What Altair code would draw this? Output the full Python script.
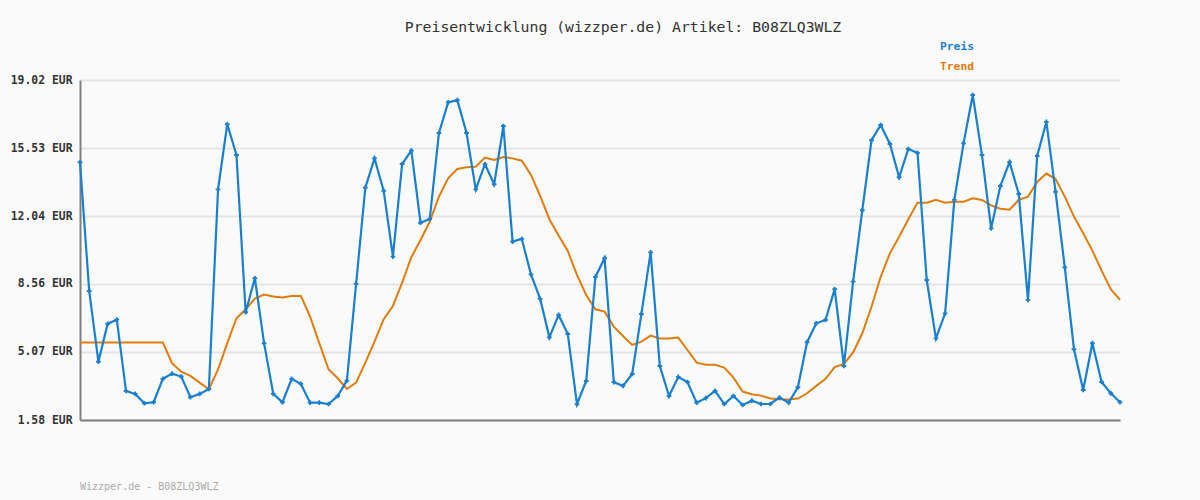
import altair as alt
import pandas as pd

price = [14.80, 8.20, 4.57, 6.51, 6.73, 3.07, 2.92, 2.44, 2.49, 3.69,
         3.96, 3.81, 2.75, 2.92, 3.17, 13.41, 16.75, 15.17, 7.11, 8.85,
         5.52, 2.92, 2.49, 3.69, 3.43, 2.47, 2.47, 2.40, 2.81, 3.60,
         8.56, 13.50, 15.00, 13.33, 9.96, 14.71, 15.40, 11.70, 11.89, 16.30,
         17.87, 17.99, 16.30, 13.41, 14.70, 13.67, 16.66, 10.73, 10.87, 9.05,
         7.79, 5.82, 6.97, 5.99, 2.39, 3.58, 8.92, 9.88, 3.52, 3.33,
         3.94, 7.02, 10.18, 4.35, 2.81, 3.79, 3.53, 2.47, 2.70, 3.07,
         2.40, 2.81, 2.35, 2.57, 2.40, 2.40, 2.73, 2.47, 3.26, 5.57,
         6.54, 6.71, 8.29, 4.35, 8.68, 12.34, 15.93, 16.71, 15.74, 14.03,
         15.48, 15.28, 8.76, 5.77, 7.05, 12.87, 15.77, 18.25, 15.17, 11.41,
         13.58, 14.81, 13.17, 7.74, 15.12, 16.87, 13.28, 9.41, 5.21, 3.12,
         5.52, 3.53, 2.95, 2.49]

trend = [5.55, 5.55, 5.55, 5.55, 5.55, 5.55, 5.55, 5.55, 5.55, 5.55,
         4.49, 4.06, 3.84, 3.50, 3.16, 4.18, 5.52, 6.80, 7.26, 7.81,
         8.01, 7.91, 7.86, 7.94, 7.94, 6.88, 5.52, 4.18, 3.72, 3.17,
         3.50, 4.52, 5.60, 6.75, 7.43, 8.63, 9.93, 10.81, 11.75, 13.04,
         13.98, 14.46, 14.54, 14.57, 15.04, 14.92, 15.07, 15.00, 14.88, 14.15,
         13.07, 11.88, 11.04, 10.25, 9.02, 7.99, 7.26, 7.14, 6.37, 5.89,
         5.43, 5.60, 5.91, 5.76, 5.76, 5.81, 5.17, 4.52, 4.42, 4.42,
         4.27, 3.75, 3.04, 2.90, 2.83, 2.68, 2.65, 2.63, 2.68, 2.95,
         3.33, 3.69, 4.29, 4.46, 5.05, 6.03, 7.39, 8.93, 10.13, 10.98,
         11.88, 12.73, 12.73, 12.88, 12.73, 12.78, 12.78, 12.95, 12.87, 12.59,
         12.42, 12.37, 12.87, 13.04, 13.79, 14.22, 13.94, 13.04, 12.01, 11.16,
         10.27, 9.24, 8.29, 7.74]

y_ticks = [1.58, 5.07, 8.56, 12.04, 15.53, 19.02]
title_text = "Preisentwicklung (wizzper.de) Artikel: B08ZLQ3WLZ"
footer_text = "Wizzper.de - B08ZLQ3WLZ"
legend_labels = ["Preis", "Trend"]

BLUE = "#1a7fcf"
ORANGE = "#e07c0c"
FONT = "DejaVu Sans Mono"

df = pd.DataFrame({"i": list(range(len(price))), "price": price, "trend": trend})

x_enc = alt.X("i:Q", scale=alt.Scale(domain=[0, len(price) - 1], nice=False, zero=False),
              axis=alt.Axis(labels=False, ticks=False, grid=False, title=None,
                            domainColor="#808080", domainWidth=2))
y_axis = alt.Axis(values=y_ticks, labelExpr="format(datum.value, '.2f') + ' EUR'",
                  ticks=False, grid=True, gridColor="#e4e4e4", gridWidth=2,
                  domainColor="#808080", domainWidth=2, title=None,
                  labelFont=FONT, labelFontSize=11.4, labelFontWeight="bold",
                  labelColor="#333333", labelPadding=8)
y_scale = alt.Scale(domain=[1.58, 19.02], nice=False, zero=False)

base = alt.Chart(df)
trend_line = base.mark_line(color=ORANGE, strokeWidth=2).encode(
    x=x_enc, y=alt.Y("trend:Q", scale=y_scale, axis=y_axis))
price_line = base.mark_line(color=BLUE, strokeWidth=2.2).encode(
    x=x_enc, y=alt.Y("price:Q", scale=y_scale, axis=y_axis))
price_pts = base.mark_point(shape="cross", filled=True, size=22, color=BLUE, opacity=1).encode(
    x=x_enc, y=alt.Y("price:Q", scale=y_scale, axis=y_axis))

one = pd.DataFrame({"t": [title_text]})
title = alt.Chart(one).mark_text(font=FONT, fontSize=14.8, color="#333333",
                                 align="center", baseline="middle").encode(
    text="t:N", x=alt.value(543), y=alt.value(-52))

leg_df = pd.DataFrame({"t": legend_labels, "c": [BLUE, ORANGE], "yy": [-33, -13]})
legend = alt.Chart(leg_df).mark_text(font=FONT, fontSize=11.3, fontWeight="bold",
                                     align="left", baseline="middle").encode(
    text="t:N", x=alt.value(860), y=alt.Y("yy:Q", scale=None),
    color=alt.Color("c:N", scale=None))

foot = alt.Chart(pd.DataFrame({"t": [footer_text]})).mark_text(
    font=FONT, fontSize=10, color="#aaaaaa", align="left", baseline="middle").encode(
    text="t:N", x=alt.value(0), y=alt.value(407))

chart = alt.layer(trend_line, price_line, price_pts, title, legend, foot).properties(
    width=1040, height=340,
    background="#fafafa",
    autosize=alt.AutoSizeParams(type="none"),
    padding={"left": 80, "top": 80, "right": 80, "bottom": 80},
).configure_view(stroke=None)

chart.save("out.html", embed_options={"renderer": "svg", "actions": False})
